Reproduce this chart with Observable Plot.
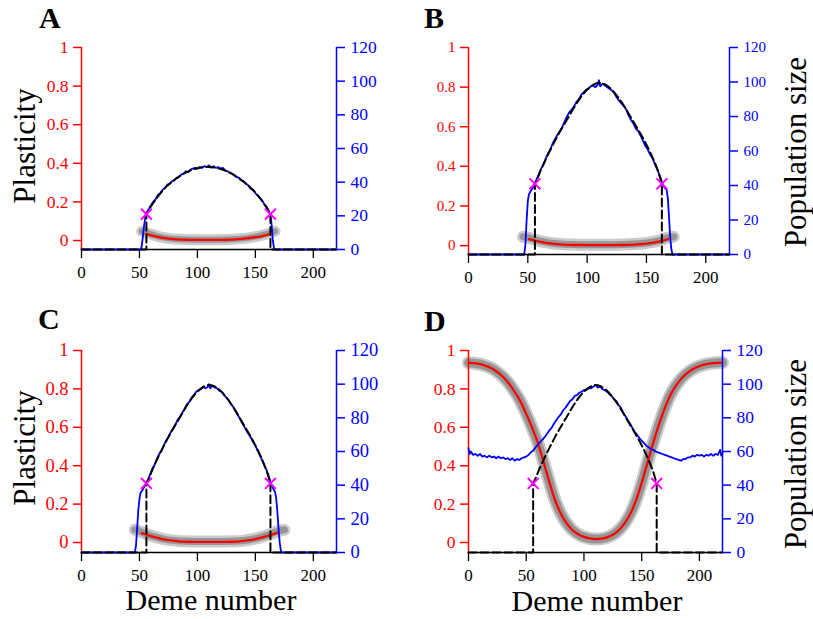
<!DOCTYPE html>
<html><head><meta charset="utf-8">
<script src="https://cdn.jsdelivr.net/npm/d3@7"></script>
<script src="https://cdn.jsdelivr.net/npm/@observablehq/plot@0.6"></script>
<style>
body{margin:0;background:#fff;}
#fig{position:relative;width:813px;height:619px;overflow:hidden;font-family:"Liberation Serif","Times New Roman",Times,"DejaVu Serif",serif;}
#fig svg, #fig svg text{font-family:"Liberation Serif","Times New Roman",Times,"DejaVu Serif",serif !important;}
.panel{position:absolute;}
.panel svg{position:absolute;left:0;top:0;overflow:visible;}
#labels{position:absolute;left:0;top:0;pointer-events:none;}
</style></head><body><div id="fig"></div>
<script>
const SERIF = '"Liberation Serif", "Times New Roman", Times, "DejaVu Serif", serif';
// ---------- tick values ----------
const demeTicks = [0, 50, 100, 150, 200];
const plastTicks = [0, 0.2, 0.4, 0.6, 0.8, 1];
const popTicks = [0, 20, 40, 60, 80, 100, 120];
const demeDomain = [0, 220];
const popDomain = [0, 120];

// ---------- panel A ----------
const popA = [[0,0],[51,0],[52,2],[53,8],[54,14],[55,19],[56,21.5],[58,24],[60,26.5],[62,28.5],[64,30],[66,32.5],[68,33.5],[70,35.5],[72,36.5],[74,38.5],[76,39],[78,40.5],[80,41],[82,42.5],[84,43],[86,44.5],[88,45],[90,46.5],[92,46],[94,47.5],[96,48],[98,48.5],[100,48],[102,49],[104,48.5],[106,49.5],[108,49],[110,50],[112,48.5],[114,49.5],[116,48.5],[118,49],[120,48],[122,48.5],[124,47],[126,46.5],[128,45.5],[130,45],[132,44],[134,43],[136,42.5],[138,41],[140,40.5],[142,39],[144,38],[146,36],[148,35.5],[150,33.5],[152,32],[154,30.5],[156,29],[158,26.5],[160,25],[162,22],[163,20.5],[164,15],[165,6],[166,1],[167,0],[220,0]];
const theoryPopA = [[0,0],[56,0],[56,21],[58,23.5],[61,26.8],[64,29.7],[67,32.5],[70,35],[73,37.2],[76,39.1],[79,40.8],[82,42.3],[85,43.7],[88,45],[91,46],[94,47],[97,47.7],[100,48.3],[103,48.7],[106,49],[109,49.1],[112,49],[115,48.7],[118,48.3],[121,47.7],[124,46.9],[127,46],[130,44.9],[133,43.6],[136,42.2],[139,40.7],[142,39.1],[145,37.3],[148,35.3],[151,33],[154,30.5],[157,27.7],[160,24.6],[163,21],[163,0],[220,0]];
const plastA = [[56,0.034],[60,0.027],[65,0.02],[70,0.014],[75,0.01],[80,0.007],[85,0.005],[90,0.004],[95,0.003],[100,0.003],[105,0.003],[110,0.003],[115,0.003],[120,0.003],[125,0.004],[130,0.005],[135,0.007],[140,0.01],[145,0.013],[150,0.017],[155,0.022],[160,0.029],[163,0.034]];
const simPlastA = [[52,0.048],[54,0.045],[56,0.041],[60,0.032],[65,0.023],[70,0.016],[75,0.011],[80,0.008],[90,0.005],[100,0.004],[110,0.004],[120,0.004],[130,0.006],[140,0.011],[145,0.015],[150,0.02],[155,0.026],[160,0.034],[163,0.04],[165,0.045],[167,0.048]];
const edgeA = [[56,21],[163,21]];

// ---------- panel B ----------
const popB = [[0,0],[47,0],[48,6],[49,20],[50,31],[51,35],[53,37.5],[55,39],[57,43],[59,46],[61,49.5],[63,52],[65,55.5],[67,58.5],[69,61],[71,64.5],[73,67],[75,69.5],[77,71.5],[79,74],[81,77],[83,80],[85,82.5],[87,84],[89,86],[91,88.5],[93,90],[95,92.5],[97,94],[99,95.5],[101,96],[103,97.5],[105,98],[107,97],[109,98.5],[110,101],[111,97.5],[113,99],[115,98],[117,97],[119,96],[121,95],[123,93.5],[125,91],[127,89],[129,87.5],[131,86],[133,84],[135,80.5],[137,78],[139,76],[141,73],[143,71.5],[145,69],[147,66],[149,63],[151,61],[153,58],[155,56],[157,52.5],[159,49.5],[161,46],[163,42],[165,39],[167,37.5],[168,33],[169,22],[170,10],[171,3],[172,0],[220,0]];
const plastB = [[51,0.033],[55,0.027],[60,0.02],[65,0.014],[70,0.01],[75,0.007],[80,0.005],[90,0.003],[100,0.002],[110,0.002],[120,0.002],[130,0.003],[140,0.005],[145,0.007],[150,0.01],[155,0.014],[160,0.02],[165,0.027],[168,0.033]];
const simPlastB = [[46,0.045],[48,0.044],[50,0.041],[53,0.035],[56,0.029],[60,0.023],[65,0.017],[70,0.012],[80,0.007],[90,0.005],[100,0.004],[110,0.004],[120,0.004],[130,0.005],[140,0.008],[150,0.013],[155,0.018],[160,0.024],[164,0.031],[167,0.038],[170,0.043],[173,0.045]];

// ---------- panel C ----------
const popC = [[0,0],[46,0],[47,4],[48,14],[49,25],[50,32],[51,35.5],[53,37.5],[55,40],[57,42.5],[59,46],[61,49.5],[63,52],[65,55.5],[67,58.5],[69,60.5],[71,63.5],[73,66.5],[75,68.5],[77,71.5],[79,73.5],[81,76],[83,79],[85,80.5],[87,83],[89,85.5],[91,88],[93,89.5],[95,92],[97,93.5],[99,95.5],[101,96.5],[103,97],[105,98.5],[107,97.5],[109,98.5],[110,100],[111,97.5],[113,99],[115,98],[117,97.5],[119,96],[121,95.5],[123,93.5],[125,92],[127,90.5],[129,88],[131,86.5],[133,84],[135,81.5],[137,79],[139,76.5],[141,74],[143,71.5],[145,69.5],[147,67],[149,64.5],[151,62],[153,59],[155,56],[157,53],[159,50],[161,46.5],[163,42],[165,38.5],[167,36],[168,32],[169,24],[170,14],[171,6],[172,1],[173,0],[220,0]];
const plastC = [[52,0.049],[55,0.043],[60,0.033],[65,0.025],[70,0.018],[75,0.012],[80,0.008],[85,0.005],[90,0.004],[100,0.003],[110,0.003],[120,0.003],[130,0.004],[135,0.005],[140,0.008],[145,0.012],[150,0.018],[155,0.025],[160,0.033],[165,0.043],[168,0.049],[170,0.054]];
const simPlastC = [[46,0.066],[48,0.064],[50,0.059],[53,0.051],[56,0.044],[60,0.035],[65,0.027],[70,0.019],[80,0.01],[90,0.006],[100,0.005],[110,0.005],[120,0.005],[130,0.006],[140,0.01],[150,0.02],[155,0.028],[160,0.037],[164,0.046],[167,0.054],[170,0.06],[173,0.065],[175,0.066]];

// ---------- panel D ----------
const popD = [[0,62],[1,58.5],[2,60],[4,58],[6,58.5],[8,57.5],[10,58.5],[12,57],[14,57.5],[16,56.5],[18,57.5],[20,56.5],[22,57],[24,56],[26,57],[28,56],[30,56.5],[32,55.5],[34,56],[36,55],[38,56],[40,54.5],[42,55.5],[44,55],[46,56],[48,56.5],[50,57],[52,58],[54,59.5],[56,60.5],[58,62.5],[60,64],[62,65.5],[64,67],[66,68.5],[68,70.5],[70,72.5],[72,74],[74,76.5],[76,78.5],[78,80.5],[80,82],[82,84.5],[84,86],[86,88],[88,90],[90,91],[92,93],[94,93.5],[96,95],[98,95.5],[100,96.5],[102,96.5],[104,97.5],[106,97.5],[108,98.5],[110,99.5],[112,98],[114,98.5],[116,97],[118,96.5],[120,95.5],[122,94],[124,93],[126,91],[128,90],[130,87.5],[132,86],[134,83],[136,81],[138,78.5],[140,76.5],[142,74],[144,71.5],[146,70],[148,68],[150,66.5],[152,65],[154,63.5],[156,62.5],[158,61.5],[160,61],[162,60],[164,59.5],[166,59],[168,58.5],[170,58],[172,57.5],[174,57],[176,56.5],[178,56],[180,55.5],[182,55],[184,54.5],[186,55.5],[188,55.5],[190,56.5],[192,56.5],[194,57.5],[196,57],[198,58],[200,57.5],[202,58],[204,57],[206,58],[208,57.5],[210,58.5],[212,57.5],[214,58.5],[216,58],[218,61],[219,57.5],[220,59]];
const plastD = [[0,0.936],[5,0.934],[10,0.929],[15,0.92],[20,0.907],[25,0.888],[30,0.862],[35,0.828],[40,0.785],[45,0.735],[50,0.67],[55,0.6],[60,0.52],[65,0.42],[70,0.315],[75,0.22],[80,0.15],[85,0.1],[90,0.065],[95,0.043],[100,0.029],[105,0.021],[110,0.018],[115,0.02],[120,0.027],[125,0.04],[130,0.063],[135,0.098],[140,0.148],[145,0.218],[150,0.31],[155,0.415],[160,0.52],[165,0.615],[170,0.7],[175,0.77],[180,0.82],[185,0.858],[190,0.885],[195,0.905],[200,0.919],[205,0.928],[210,0.933],[215,0.936],[220,0.937]];

// ---------- shared theory for B, C, D ----------
const theoryPop = [[0,0],[56,0],[56,41],[58,44],[61,49],[64,53.5],[67,58],[70,62],[73,66],[76,70],[79,73.5],[82,77],[85,80.5],[88,84],[91,87.5],[94,90.5],[97,93.3],[100,95.6],[103,97.4],[106,98.7],[109,99.5],[112,99.4],[115,98.6],[118,97.3],[121,95.4],[124,93],[127,90.3],[130,87.3],[133,84],[136,80.5],[139,77],[142,73.5],[145,70],[148,66.3],[151,62.3],[154,58],[157,53.3],[160,48],[163,41],[163,0],[220,0]];
const edge = [[56,41],[163,41]];

const panels = [
  {left:0, top:0, w:400, h:300, ml:81, mr:64, mt:47, mb:51, pmin:-0.0466, yfs:17.5,
   pop:popA, theory:theoryPopA, plast:plastA, sim:simPlastA, edge:edgeA, simW:[11,6]},
  {left:400, top:0, w:413, h:300, ml:68, mr:84, mt:47, mb:46, pmin:-0.045, yfs:15,
   pop:popB, theory:theoryPop, plast:plastB, sim:simPlastB, edge:edge, simW:[12,7]},
  {left:0, top:300, w:400, h:319, ml:81, mr:64, mt:50, mb:67, pmin:-0.052, yfs:18.5,
   pop:popC, theory:theoryPop, plast:plastC, sim:simPlastC, edge:edge, simW:[12,7]},
  {left:400, top:300, w:413, h:319, ml:68, mr:91, mt:50, mb:67, pmin:-0.052, yfs:17.5,
   pop:popD, theory:theoryPop, plast:plastD, sim:plastD, edge:edge, simW:[13,9]}
];

const fig = document.getElementById("fig");
const style = {background:"transparent", fontFamily: SERIF, fontSize:"17px", overflow:"visible"};

for (const p of panels) {
  const div = document.createElement("div");
  div.className = "panel";
  div.style.left = p.left + "px"; div.style.top = p.top + "px";
  div.style.width = p.w + "px"; div.style.height = p.h + "px";
  fig.appendChild(div);
  const dims = {width:p.w, height:p.h, marginLeft:p.ml, marginRight:p.mr, marginTop:p.mt, marginBottom:p.mb, style};

  const plastPlot = Plot.plot({
    ...dims,
    x: {domain: demeDomain},
    y: {domain: [p.pmin, 1]},
    marks: [
      Plot.line(p.sim, {x: d => d[0], y: d => d[1], stroke: "#8c8c8c", strokeWidth: p.simW[0], strokeOpacity: 0.45, curve: "catmull-rom"}),
      Plot.line(p.sim, {x: d => d[0], y: d => d[1], stroke: "#7a7a7a", strokeWidth: p.simW[1], strokeOpacity: 0.65, curve: "catmull-rom"}),
      Plot.line(p.plast, {x: d => d[0], y: d => d[1], stroke: "#ff0000", strokeWidth: 2.3, curve: "catmull-rom"}),
      Plot.axisX({ticks: demeTicks, tickSize: 9, tickPadding: 7, label: null, fontSize: 17, fontFamily: SERIF, color: "black", strokeWidth: 1.3}),
      Plot.axisY({anchor: "left", ticks: plastTicks, tickSize: 8, tickPadding: 5, tickFormat: d => String(d), label: null, fontSize: p.yfs, fontFamily: SERIF, color: "red", strokeWidth: 1.5}),
      Plot.ruleX([demeDomain[0]], {stroke: "red", strokeWidth: 1.5}),
      Plot.ruleY([p.pmin], {stroke: "black", strokeWidth: 1.5})
    ]
  });
  div.appendChild(plastPlot);

  const popPlot = Plot.plot({
    ...dims,
    x: {domain: demeDomain, axis: null},
    y: {domain: popDomain},
    marks: [
      Plot.line(p.pop, {x: d => d[0], y: d => d[1], stroke: "#0000ff", strokeWidth: 1.8}),
      Plot.line(p.theory, {x: d => d[0], y: d => d[1], stroke: "black", strokeWidth: 2, strokeDasharray: "8,4"}),
      Plot.dot(p.edge, {x: d => d[0], y: d => d[1], symbol: "times", r: 5, stroke: "#ff00ff", strokeWidth: 2}),
      Plot.axisY({anchor: "right", ticks: popTicks, tickSize: 8, tickPadding: 6, label: null, fontSize: p.yfs, fontFamily: SERIF, color: "blue", strokeWidth: 1.5}),
      Plot.ruleX([demeDomain[1]], {stroke: "blue", strokeWidth: 1.5})
    ]
  });
  div.appendChild(popPlot);
}

// ---------- panel letters and axis titles ----------
const NS = "http://www.w3.org/2000/svg";
const lab = document.createElementNS(NS, "svg");
lab.setAttribute("id", "labels");
lab.setAttribute("width", 813); lab.setAttribute("height", 619);
fig.appendChild(lab);
function addText(str, x, y, opts) {
  const t = document.createElementNS(NS, "text");
  t.textContent = str;
  t.setAttribute("x", x); t.setAttribute("y", y);
  t.setAttribute("font-family", SERIF);
  t.setAttribute("font-size", opts.size);
  if (opts.bold) t.setAttribute("font-weight", "bold");
  if (opts.anchor) t.setAttribute("text-anchor", opts.anchor);
  if (opts.rotate) t.setAttribute("transform", `rotate(-90 ${x} ${y})`);
  t.setAttribute("fill", "black");
  lab.appendChild(t);
}
addText("A", 39, 28, {size: 30, bold: true});
addText("B", 424, 28, {size: 30, bold: true});
addText("C", 38, 329, {size: 30, bold: true});
addText("D", 424, 331, {size: 30, bold: true});
addText("Plasticity", 35, 146, {size: 31, anchor: "middle", rotate: true});
addText("Plasticity", 35, 448, {size: 31, anchor: "middle", rotate: true});
addText("Population size", 806, 152, {size: 31, anchor: "middle", rotate: true});
addText("Population size", 806, 454, {size: 31, anchor: "middle", rotate: true});
addText("Deme number", 211, 610, {size: 30, anchor: "middle"});
addText("Deme number", 597, 611, {size: 30, anchor: "middle"});
</script>
</body></html>
